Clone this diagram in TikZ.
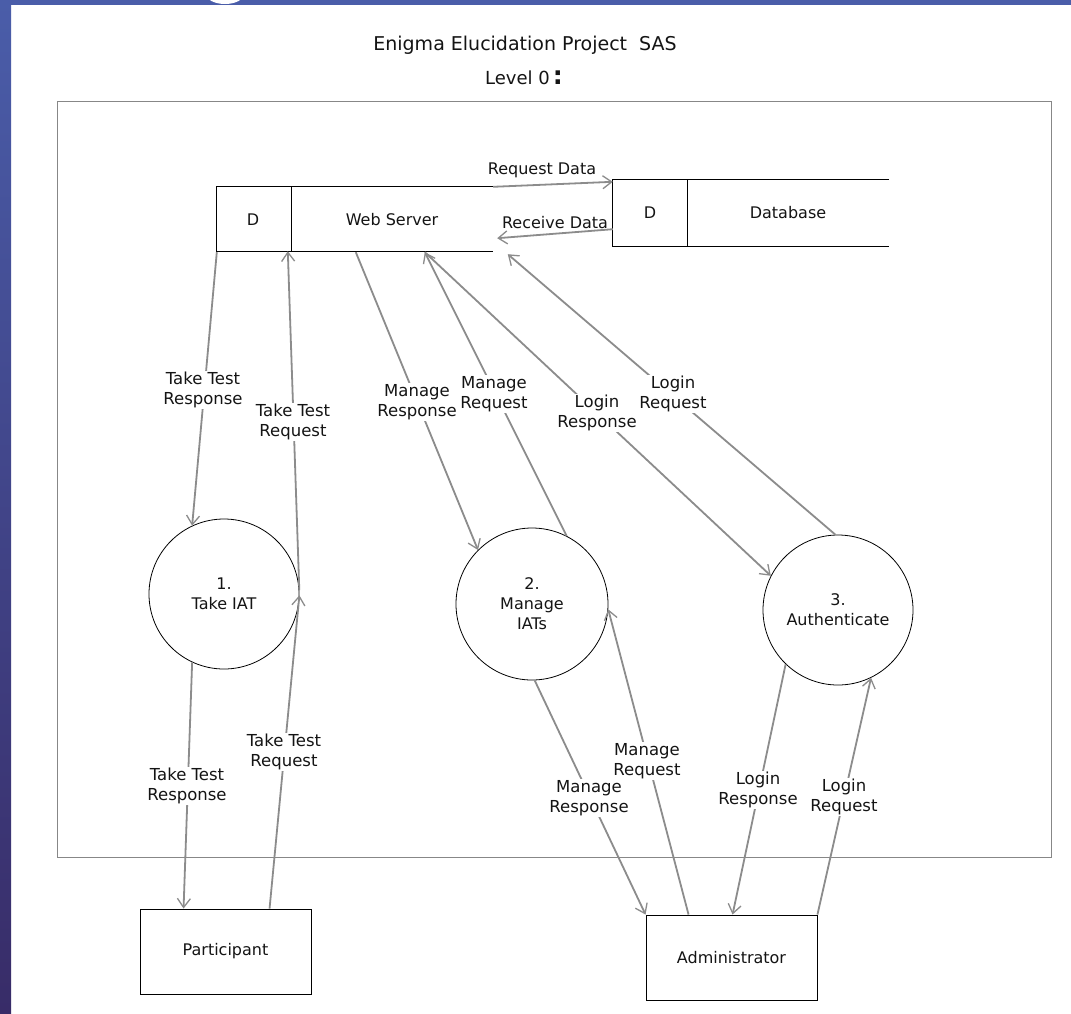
\documentclass[tikz,border=0pt]{standalone}
\usepackage{fontspec}
\setmainfont{DejaVu Sans}
\usetikzlibrary{arrows.meta,calc}
\definecolor{arrc}{RGB}{140,140,140}
\definecolor{framec}{RGB}{135,135,135}
\definecolor{bartop}{RGB}{74,93,169}
\definecolor{barbot}{RGB}{56,44,104}
\definecolor{txt}{RGB}{20,20,20}
\tikzset{
  storebox/.style={inner sep=0pt, minimum width=276pt, minimum height=64pt},
  proc/.style={circle, draw=black, line width=0.8pt, inner sep=0pt, align=center, text=txt, font=\fontsize{16}{20}\selectfont},
  entity/.style={rectangle, draw=black, line width=0.9pt, inner sep=0pt, minimum width=171pt, minimum height=85pt, text=txt, font=\fontsize{16}{20}\selectfont},
  plain/.style={inner sep=0pt, text=txt, font=\fontsize{16}{20}\selectfont},
  lbl/.style={fill=white, inner sep=1.5pt, align=center, text=txt, font=\fontsize{16.5}{20}\selectfont},
  flow/.style={draw=arrc, line width=1.8pt, -{Straight Barb[length=9pt,width=13pt,line width=1.3pt]}},
}
\begin{document}
\begin{tikzpicture}[x=1pt,y=-1pt]
\useasboundingbox (0,0) rectangle (1071,1013);
\fill[white] (0,0) rectangle (1071,1013);
\shade[top color=bartop,bottom color=barbot] (0,0) rectangle (11,1013);
\fill[bartop] (0,0) rectangle (1071,5);
\fill[white] (225,-6) ellipse [x radius=19, y radius=10];

% title
\node[plain, font=\fontsize{19}{23}\selectfont] (title) at (525,45) {Enigma Elucidation Project\ \ SAS};
\node[plain, font=\fontsize{18}{22}\selectfont, anchor=base] (lev) at (524,84) {Level 0\,{\fontsize{25}{25}\selectfont\bfseries :}};

% frame
\draw[framec, line width=0.9pt] (57,101) rectangle (1051,857);

% web server store
\node[storebox] (ws) at (355,219) {};
\draw[black, line width=0.9pt] (ws.north east) -- (ws.north west) -- (ws.south west) -- (ws.south east);
\draw[black, line width=0.9pt] ($(ws.north west)+(75,0)$) -- ($(ws.south west)+(75,0)$);
\node[plain] (wsd) at (253,220) {D};
\node[plain] (wsn) at (392,220) {Web Server};

% database store
\node[storebox, minimum height=66pt] (db) at (751,213) {};
\draw[black, line width=0.9pt] (db.north east) -- (db.north west) -- (db.south west) -- (db.south east);
\draw[black, line width=0.9pt] ($(db.north west)+(75,0)$) -- ($(db.south west)+(75,0)$);
\node[plain] (dbd) at (650,213) {D};
\node[plain] (dbn) at (788,213) {Database};

% processes
\node[proc, minimum size=150pt] (c1) at (224,594) {1.\\Take IAT};
\node[proc, minimum size=152pt] (c2) at (532,604) {2.\\Manage\\IATs};
\node[proc, minimum size=150pt] (c3) at (838,610) {3.\\Authenticate};

% external entities
\node[entity] (part) at (225.5,951.5) {Participant};
\node[entity] (adm) at (731.5,957.5) {Administrator};

% connection points
\coordinate (wsA) at ($(ws.south west)+(0,1)$);
\coordinate (wsB) at ($(ws.south west)+(71,0)$);
\coordinate (wsC) at ($(ws.south west)+(139,1)$);
\coordinate (wsD) at ($(ws.south west)+(208,1)$);
\coordinate (wsE) at ($(ws.south west)+(291,3)$);
\coordinate (rqS) at (ws.north east);
\coordinate (rqE) at ($(db.north west)+(0,2)$);
\coordinate (rcS) at ($(db.south west)+(0,-17)$);
\coordinate (rcE) at ($(ws.south east)+(4,-13)$);
\coordinate (pA) at ($(part.north west)+(44,0)$);
\coordinate (pB) at ($(part.north west)+(130,0)$);
\coordinate (aA) at (adm.north west);
\coordinate (aB) at ($(adm.north west)+(43,0)$);
\coordinate (aC) at ($(adm.north west)+(87,0)$);
\coordinate (aD) at (adm.north east);

% flows between stores
\draw[flow] (rqS) -- (rqE);
\draw[flow] (rcS) -- (rcE);
\node[plain] (lrq) at (542,170) {Request Data};
\node[plain] (lrc) at (555,223) {Receive Data};

% flows top
\draw[flow] (wsA) -- (c1.115);
\draw[flow] (c1.3) -- (wsB);
\draw[flow] (wsC) -- (c2.135);
\draw[flow] (c2.63) -- (wsD);
\draw[flow] (wsD) -- (c3.153);
\draw[flow] (c3.92) -- (wsE);

% flows bottom
\draw[flow] (c1.-115) -- (pA);
\draw[flow] (pB) -- (c1.-1);
\draw[flow] (c2.-88) -- (aA);
\draw[flow] (aB) -- (c2.-4);
\draw[flow] (c3.-134) -- (aC);
\draw[flow] (aD) -- (c3.-64);

% labels
\node[lbl] (l1) at (203,390) {Take Test\\Response};
\node[lbl] (l2) at (293,422) {Take Test\\Request};
\node[lbl] (l3) at (187,786) {Take Test\\Response};
\node[lbl] (l4) at (284,752) {Take Test\\Request};
\node[lbl] (l5) at (417,402) {Manage\\Response};
\node[lbl] (l6) at (494,394) {Manage\\Request};
\node[lbl] (l7) at (597,413) {Login\\Response};
\node[lbl] (l8) at (673,394) {Login\\Request};
\node[lbl] (l9) at (589,798) {Manage\\Response};
\node[lbl] (l10) at (647,761) {Manage\\Request};
\node[lbl] (l11) at (758,790) {Login\\Response};
\node[lbl] (l12) at (844,797) {Login\\Request};
\end{tikzpicture}
\end{document}
